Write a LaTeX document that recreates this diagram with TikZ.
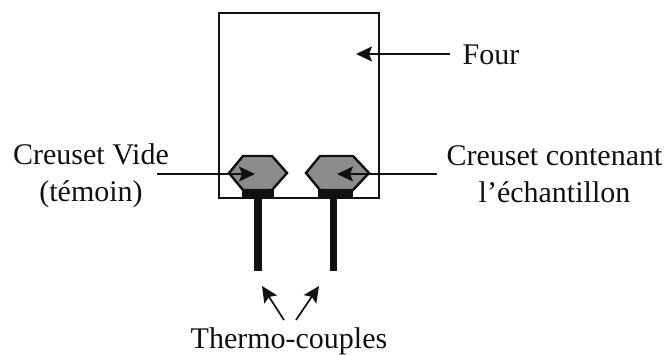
\documentclass[tikz,border=0pt]{standalone}
\usepackage{fontspec}
\setmainfont{Liberation Serif}
\usepackage{xcolor}
\usetikzlibrary{arrows.meta}
\definecolor{ink}{HTML}{111111}
\definecolor{charge}{HTML}{8C8C8C}
\tikzset{
  legend/.style={font=\fontsize{30}{37}\selectfont,align=center,text=ink,inner sep=0pt},
  pointer/.style={-{Stealth[length=16pt,width=15pt,inset=3pt]},line width=1.7pt,color=ink},
  crucible/.style={fill=charge,draw=ink,line width=2.4pt,line join=miter},
  support/.style={fill=ink,draw=none}
}
\begin{document}
\begin{tikzpicture}[x=1pt,y=-1pt]
\useasboundingbox (0,0) rectangle (668,355);
\draw[line width=1.8pt,color=ink] (219,13) rectangle (379,198);
\filldraw[crucible] (229,173)--(243,156)--(272,156)--(287,173)--(272,190)--(243,190)--cycle;
\filldraw[crucible] (306,173)--(320,156)--(353,156)--(369,173)--(353,190)--(320,190)--cycle;
\fill[support] (242,189) rectangle (274,199);
\fill[support] (318,189) rectangle (353,199);
\fill[support] (254,199) rectangle (262,271);
\fill[support] (330,199) rectangle (337,271);
\node[legend] (four) at (491,55) {Four};
\node[legend] (empty) at (91,176) {Creuset Vide\\(témoin)};
\node[legend] (sample) at (554.5,174) {Creuset contenant\\l’échantillon};
\node[legend] (thermo) at (289,341) {Thermo-couples};
\coordinate (fourtail) at (450,54);
\coordinate (fourtip) at (356,54);
\coordinate (emptytail) at (157,174);
\coordinate (emptytip) at (255,174);
\coordinate (sampletail) at (437,174);
\coordinate (sampletip) at (337,174);
\coordinate (lefttail) at (284,320);
\coordinate (lefttip) at (262,286);
\coordinate (righttail) at (296,320);
\coordinate (righttip) at (319,286);
\draw[pointer] (fourtail)--(fourtip);
\draw[pointer] (emptytail)--(emptytip);
\draw[pointer] (sampletail)--(sampletip);
\draw[pointer] (lefttail)--(lefttip);
\draw[pointer] (righttail)--(righttip);
\end{tikzpicture}
\end{document}
